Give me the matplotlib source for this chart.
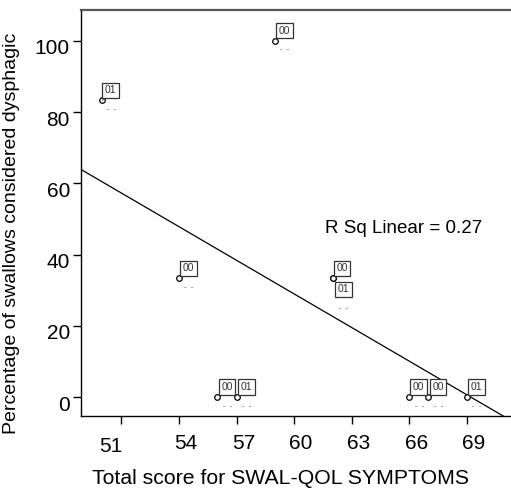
import numpy as np
import matplotlib
matplotlib.use("Agg")
import matplotlib.pyplot as plt
from matplotlib.transforms import ScaledTranslation

# Patient scores and swallow outcomes
score = [50, 59, 54, 62, 62, 56, 57, 66, 67, 69]
pct_dysphagic = [83.3, 100, 33.3, 33.3, 33.3, 0, 0, 0, 0, 0]
case_label = ["01", "00", "00", "00", "01", "00", "01", "00", "00", "01"]
# label box offsets (pixels) relative to each point
label_dx = [0, 1, 1, 1, 2, 1, 1, 1, 1, 1]
label_dy = [3, 3, 3, 3, -18, 3, 3, 3, 3, 3]

xticks = [51, 54, 57, 60, 63, 66, 69]
yticks = [0, 20, 40, 60, 80, 100]

plt.rcParams['font.family'] = ['Liberation Sans', 'DejaVu Sans']

DPI = 100
fig = plt.figure(figsize=(5.11, 4.96), dpi=DPI)
ax = fig.add_axes([81 / 511, 1 - 416 / 496, 1 - 81 / 511, 406 / 496])

ax.set_xlim(48.89, 71.3)
ax.set_ylim(-5.33, 108.7)

px = 72.0 / DPI  # points per pixel

# Linear fit
x = np.array(score, float)
y = np.array(pct_dysphagic, float)
slope, icpt = np.polyfit(x, y, 1)
r2 = np.corrcoef(x, y)[0, 1] ** 2
xl = np.array(ax.get_xlim())
ax.plot(xl, icpt + slope * xl, color="black", lw=0.9, zorder=2)

# Points
ax.scatter(x, y, s=16, facecolors="white", edgecolors="black", linewidths=0.9, zorder=3)

# Case labels; the small trailing marks sit under the last label of each point
n = len(x)
for i in range(n):
    last = i == n - 1 or (x[i + 1], y[i + 1]) != (x[i], y[i])
    if last:
        ax.annotate("-  -", xy=(x[i], y[i]), xytext=((label_dx[i] + 9) * px, (label_dy[i] - 12) * px),
                    textcoords="offset points", ha="center", va="center",
                    fontsize=5.5, color="#555555", zorder=4)
for xi, yi, lab, dx, dy in zip(x, y, case_label, label_dx, label_dy):
    ax.annotate(lab, xy=(xi, yi), xytext=(dx * px + 2.0, dy * px + 1.5),
                textcoords="offset points", ha="left", va="bottom",
                fontsize=7.5, color="#333333", zorder=5,
                bbox=dict(boxstyle="square,pad=0.25", fc="white", ec="#333333", lw=0.9),
                arrowprops=dict(arrowstyle="-", lw=0.6, color="#333333",
                                shrinkA=0, shrinkB=2))

ax.text(61.6, 47.4, f"R Sq Linear = {r2:.2f}", fontsize=13.5, ha="left", va="center")

# Axes styling
ax.spines["right"].set_visible(False)
ax.spines["top"].set_color("#555555")
ax.spines["top"].set_linewidth(1.6)
for s in ("left", "bottom"):
    ax.spines[s].set_linewidth(1.0)
    ax.spines[s].set_color("black")

ax.set_xticks(xticks)
ax.set_yticks(yticks)
ax.set_xticklabels([str(t) for t in xticks])
ax.set_yticklabels([str(t) for t in yticks])
ax.tick_params(axis="both", direction="out", length=6, width=1, labelsize=15)
ax.tick_params(axis="x", pad=7)
ax.tick_params(axis="y", pad=2)

for t in ax.get_xticklabels():
    off = -11 if t.get_text() == "51" else 7
    dyy = -3 if t.get_text() == "51" else 0
    t.set_transform(t.get_transform() + ScaledTranslation(off / DPI, dyy / DPI, fig.dpi_scale_trans))
for t in ax.get_yticklabels():
    t.set_transform(t.get_transform() + ScaledTranslation(0, -6 / DPI, fig.dpi_scale_trans))

ax.set_xlabel("Total score for SWAL-QOL SYMPTOMS", fontsize=15.3)
ax.set_ylabel("Percentage of swallows considered dysphagic", fontsize=14)
ax.xaxis.set_label_coords(0.463, -0.13)
ax.yaxis.set_label_coords(-0.142, 0.45)

fig.savefig("out.png", dpi=DPI)
